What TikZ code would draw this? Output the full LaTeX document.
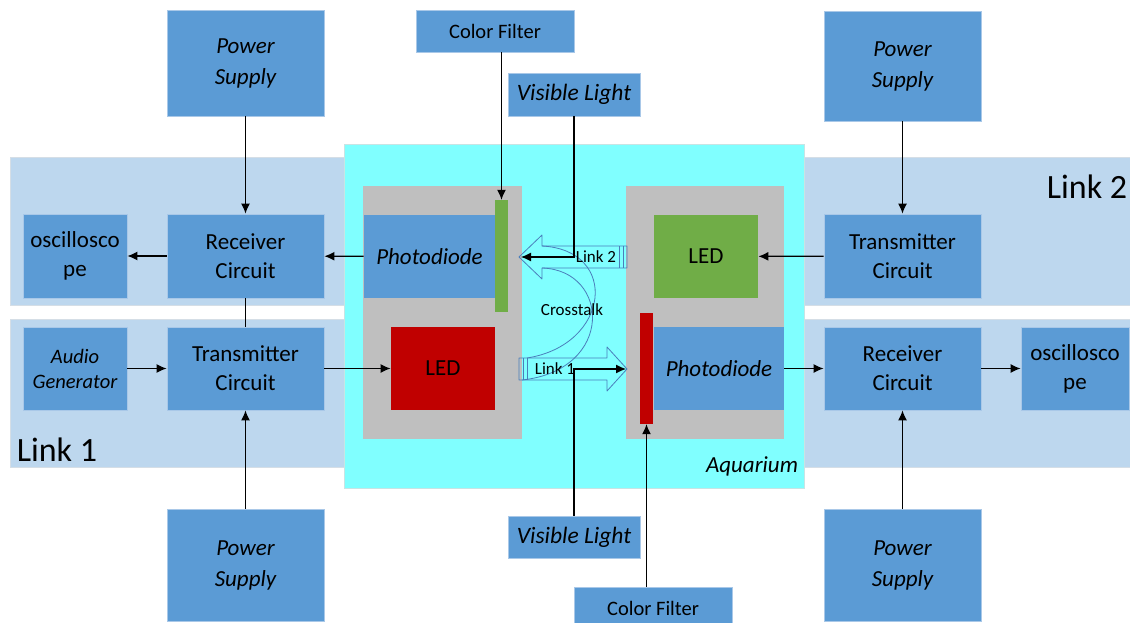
\documentclass[tikz,border=0pt]{standalone}
\usepackage{fontspec}
\setmainfont{Carlito}
\usetikzlibrary{arrows.meta}
\definecolor{boxblue}{HTML}{5B9BD5}
\definecolor{boxedge}{HTML}{A9C8E8}
\definecolor{bandblue}{HTML}{BDD7EE}
\definecolor{bandedge}{HTML}{D5DEE6}
\definecolor{tankcyan}{HTML}{80FFFF}
\definecolor{tankedge}{HTML}{C8E4E4}
\definecolor{panelgray}{HTML}{BFBFBF}
\definecolor{ledred}{HTML}{C00000}
\definecolor{ledgreen}{HTML}{70AD47}
\definecolor{beamblue}{HTML}{4A7EBB}
\begin{document}
\begin{tikzpicture}[
  x=1pt, y=-1pt,
  box/.style={draw=boxedge, line width=0.8pt, fill=boxblue, align=center, inner sep=0pt,
    font=\fontsize{23}{29}\selectfont},
  smallbox/.style={box, font=\fontsize{20.5}{25}\selectfont},
  led/.style={box, draw=none, minimum width=104pt, minimum height=83pt},
  bar/.style={draw=none, minimum width=13pt, inner sep=0pt},
  band/.style={draw=bandedge, line width=0.8pt, fill=bandblue},
  beam/.style={draw=beamblue, line width=0.8pt, line join=round},
  arr/.style={line width=1.2pt, -{Latex[length=10pt,width=9pt]}},
  every node/.style={text=black}
]
\useasboundingbox (0,0) rectangle (1130,623);

% link bands and aquarium
\draw[band] (10,157) rectangle (1130,305);
\draw[band] (10,319) rectangle (1130,467);
\node[font=\fontsize{34}{40}\selectfont] (lk2) at (1087,187) {Link 2};
\node[font=\fontsize{34}{40}\selectfont] (lk1) at (57,450) {Link 1};
\draw[draw=tankedge, line width=0.8pt, fill=tankcyan] (344,144) rectangle (804,488);
\node[font=\fontsize{23}{29}\selectfont\itshape] (aq) at (752,466) {Aquarium};
\fill[panelgray] (363,186) rectangle (522,439);
\fill[panelgray] (626,186) rectangle (784,439);

% left side
\node[box, minimum width=157pt, minimum height=106pt, font=\fontsize{23}{31}\selectfont\itshape] (psTL) at (245.5,63) {Power\\Supply};
\node[box, minimum width=104pt, minimum height=84pt] (oscL) at (75,256) {oscillosco\\pe};
\node[box, minimum width=157pt, minimum height=84pt] (rxL) at (245.5,256) {Receiver\\Circuit};
\node[smallbox, minimum width=104pt, minimum height=83pt, font=\fontsize{20.5}{25}\selectfont\itshape] (agen) at (75,368.5) {Audio\\Generator};
\node[box, minimum width=157pt, minimum height=83pt] (txL) at (245.5,368.5) {Transmitter\\Circuit};
\node[box, minimum width=157pt, minimum height=112pt, font=\fontsize{23}{31}\selectfont\itshape] (psBL) at (245.5,565) {Power\\Supply};

% aquarium parts
\node[box, draw=none, minimum width=131pt, minimum height=83pt, font=\fontsize{23}{29}\selectfont\itshape] (pdL) at (429.5,256.5) {Photodiode};
\node[led, fill=ledred] (ledL) at (443,368.5) {LED};
\node[bar, fill=ledgreen, minimum height=112pt] (barG) at (501.5,256) {};
\node[led, fill=ledgreen] (ledR) at (706,256.5) {LED};
\node[box, draw=none, minimum width=130pt, minimum height=83pt, font=\fontsize{23}{29}\selectfont\itshape] (pdR) at (719,368.5) {Photodiode};
\node[bar, fill=ledred, minimum height=111pt] (barR) at (646.5,368.5) {};

% right side
\node[box, minimum width=157pt, minimum height=110pt, font=\fontsize{23}{31}\selectfont\itshape] (psTR) at (902.5,66) {Power\\Supply};
\node[box, minimum width=157pt, minimum height=84pt] (txR) at (902.5,256) {Transmitter\\Circuit};
\node[box, minimum width=157pt, minimum height=83pt] (rxR) at (902.5,368.5) {Receiver\\Circuit};
\node[box, minimum width=108pt, minimum height=83pt] (oscR) at (1075,368.5) {oscillosco\\pe};
\node[box, minimum width=157pt, minimum height=112pt, font=\fontsize{23}{31}\selectfont\itshape] (psBR) at (902.5,565) {Power\\Supply};

% filters and light
\node[smallbox, minimum width=158pt, minimum height=42pt] (cfT) at (495,31) {Color Filter};
\node[smallbox, minimum width=132pt, minimum height=43pt, font=\fontsize{23.5}{28}\selectfont\itshape] (vlT) at (574,94.5) {Visible Light};
\node[smallbox, minimum width=132pt, minimum height=42pt, font=\fontsize{23.5}{28}\selectfont\itshape] (vlB) at (574,537) {Visible Light};
\node[smallbox, minimum width=158pt, minimum height=42pt] (cfB) at (653,608) {Color Filter};

% light beams
\draw[beam] (519,257) -- (542,235) -- (542,246) -- (627,246) -- (627,268) -- (542,268) -- (542,279) -- cycle;
\draw[beam] (619,246) -- (619,268) (623,246) -- (623,268);
\draw[beam] (627,369) -- (607,347) -- (607,358) -- (519,358) -- (519,380) -- (607,380) -- (607,391) -- cycle;
\draw[beam] (523,358) -- (523,380) (527,358) -- (527,380);
\draw[beam] (542,246) .. controls (620,250) and (610,345) .. (527,358);
\draw[beam] (542,268) .. controls (610,270) and (615,370) .. (522,380);
\node[font=\fontsize{17}{20}\selectfont] (t2) at (596,257) {Link 2};
\node[font=\fontsize{17}{20}\selectfont] (t1) at (555,369) {Link 1};
\node[font=\fontsize{17}{20}\selectfont] (xt) at (572,310) {Crosstalk};
\coordinate (l2tip) at (521,257);
\coordinate (l1tip) at (626,369);

% connectors
\draw[arr] (barG.north |- cfT.south) -- (barG.north);
\draw[arr] (vlT.south) |- (l2tip);
\draw[arr] (vlB.north) |- (l1tip);
\draw[arr] (barR.south |- cfB.north) -- (barR.south);
\draw[arr] (psTL) -- (rxL);
\draw[arr] (pdL) -- (rxL);
\draw[arr] (rxL) -- (oscL);
\draw[line width=1.2pt] (rxL) -- (txL);
\draw[arr] (agen) -- (txL);
\draw[arr] (txL) -- (ledL);
\draw[arr] (psBL) -- (txL);
\draw[arr] (psTR) -- (txR);
\draw[arr] (txR) -- (ledR);
\draw[arr] (pdR) -- (rxR);
\draw[arr] (rxR) -- (oscR);
\draw[arr] (psBR) -- (rxR);
\end{tikzpicture}
\end{document}
